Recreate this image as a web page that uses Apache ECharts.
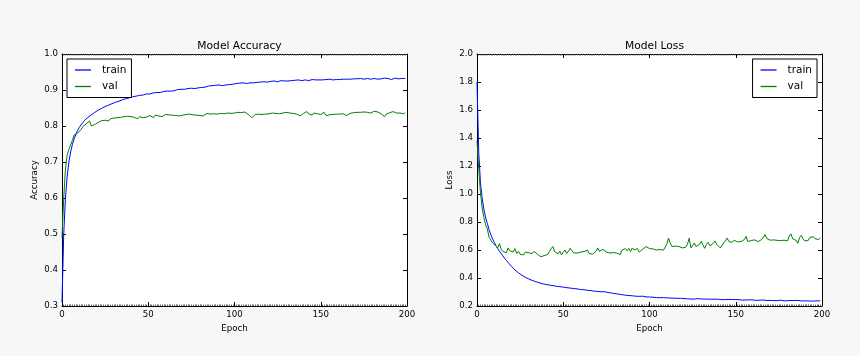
<!DOCTYPE html>
<html>
<head>
<meta charset="utf-8">
<script src="https://cdn.jsdelivr.net/npm/echarts@6/dist/echarts.min.js"></script>
<style>
html,body{margin:0;padding:0;background:#f7f7f7;}
#chart{width:860px;height:356px;}
</style>
</head>
<body>
<div id="chart"></div>
<script>
// ---- data (epoch index = position in array, 0..199) ----
const accTrain = [
0.310,0.500,0.600,0.660,0.700,0.728,0.748,0.764,0.776,0.787,
0.796,0.803,0.809,0.815,0.820,0.824,0.828,0.831,0.834,0.838,
0.841,0.844,0.846,0.849,0.851,0.854,0.856,0.858,0.861,0.862,
0.864,0.866,0.868,0.869,0.871,0.873,0.874,0.876,0.877,0.878,
0.879,0.881,0.880,0.883,0.884,0.885,0.884,0.886,0.888,0.889,
0.890,0.889,0.891,0.892,0.891,0.893,0.894,0.893,0.895,0.896,
0.895,0.897,0.898,0.897,0.899,0.898,0.900,0.901,0.899,0.902,
0.903,0.902,0.901,0.904,0.903,0.905,0.906,0.904,0.907,0.906,
0.908,0.907,0.909,0.908,0.910,0.911,0.909,0.912,0.911,0.913,
0.912,0.914,0.913,0.912,0.915,0.914,0.916,0.915,0.917,0.916,
0.917,0.918,0.916,0.919,0.918,0.920,0.919,0.918,0.921,0.920,
0.921,0.920,0.922,0.921,0.923,0.922,0.921,0.923,0.924,0.922,
0.923,0.924,0.923,0.925,0.924,0.923,0.925,0.926,0.924,0.925,
0.926,0.925,0.927,0.926,0.925,0.927,0.926,0.928,0.927,0.926,
0.927,0.928,0.927,0.926,0.928,0.929,0.927,0.928,0.929,0.928,
0.929,0.928,0.930,0.929,0.928,0.930,0.929,0.928,0.930,0.929,
0.930,0.929,0.931,0.930,0.929,0.930,0.931,0.930,0.929,0.931,
0.930,0.931,0.930,0.932,0.931,0.930,0.931,0.932,0.931,0.930,
0.931,0.932,0.931,0.930,0.932,0.931,0.932,0.933,0.931,0.932,
0.931,0.929,0.932,0.933,0.932,0.931,0.933,0.932,0.931,0.932
];
const accVal = [
0.490,0.600,0.680,0.720,0.735,0.740,0.760,0.775,0.778,0.780,
0.785,0.790,0.798,0.803,0.806,0.808,0.814,0.800,0.795,0.804,
0.806,0.810,0.808,0.815,0.812,0.816,0.818,0.814,0.820,0.817,
0.822,0.819,0.823,0.818,0.824,0.821,0.826,0.822,0.827,0.823,
0.826,0.829,0.824,0.828,0.820,0.826,0.829,0.823,0.828,0.825,
0.822,0.829,0.826,0.823,0.830,0.825,0.828,0.831,0.826,0.830,
0.832,0.829,0.831,0.827,0.830,0.834,0.829,0.831,0.828,0.832,
0.830,0.826,0.832,0.829,0.833,0.828,0.831,0.834,0.830,0.832,
0.829,0.833,0.828,0.832,0.835,0.830,0.833,0.829,0.834,0.831,
0.833,0.830,0.835,0.831,0.834,0.832,0.836,0.833,0.835,0.838,
0.836,0.835,0.838,0.834,0.837,0.836,0.839,0.835,0.832,0.828,
0.823,0.828,0.832,0.834,0.833,0.835,0.832,0.834,0.833,0.835,
0.834,0.832,0.836,0.833,0.835,0.837,0.834,0.833,0.836,0.834,
0.838,0.834,0.836,0.839,0.835,0.837,0.833,0.830,0.828,0.831,
0.835,0.837,0.840,0.834,0.838,0.830,0.836,0.839,0.834,0.837,
0.832,0.836,0.838,0.829,0.826,0.831,0.834,0.832,0.835,0.833,
0.834,0.833,0.835,0.834,0.832,0.829,0.833,0.835,0.836,0.837,
0.836,0.838,0.837,0.838,0.836,0.839,0.837,0.838,0.840,0.836,
0.838,0.841,0.837,0.839,0.838,0.834,0.829,0.826,0.833,0.838,
0.837,0.839,0.840,0.838,0.836,0.832,0.836,0.839,0.834,0.837
];
const lossTrain = [
1.800,1.300,1.080,0.970,0.890,0.830,0.790,0.745,0.710,0.680,
0.655,0.630,0.610,0.592,0.575,0.558,0.541,0.526,0.511,0.497,
0.483,0.470,0.458,0.447,0.437,0.428,0.420,0.412,0.405,0.399,
0.393,0.388,0.383,0.378,0.374,0.370,0.366,0.362,0.359,0.356,
0.354,0.351,0.349,0.347,0.346,0.344,0.341,0.335,0.338,0.340,
0.335,0.333,0.331,0.330,0.328,0.326,0.325,0.323,0.322,0.320,
0.318,0.317,0.316,0.314,0.312,0.311,0.310,0.308,0.306,0.305,
0.304,0.303,0.302,0.300,0.302,0.299,0.296,0.294,0.293,0.291,
0.288,0.286,0.285,0.283,0.281,0.279,0.277,0.279,0.275,0.274,
0.273,0.272,0.270,0.271,0.269,0.268,0.270,0.266,0.265,0.266,
0.264,0.262,0.263,0.261,0.260,0.262,0.259,0.258,0.260,0.257,
0.258,0.256,0.257,0.255,0.256,0.254,0.255,0.253,0.255,0.252,
0.253,0.255,0.251,0.252,0.250,0.252,0.249,0.251,0.253,0.249,
0.250,0.248,0.250,0.247,0.249,0.251,0.248,0.247,0.249,0.246,
0.248,0.246,0.245,0.248,0.246,0.244,0.247,0.245,0.246,0.244,
0.246,0.243,0.245,0.244,0.242,0.245,0.243,0.241,0.244,0.242,
0.243,0.241,0.240,0.246,0.242,0.240,0.243,0.241,0.239,0.242,
0.240,0.244,0.239,0.241,0.238,0.240,0.242,0.239,0.237,0.240,
0.238,0.241,0.239,0.236,0.239,0.237,0.240,0.238,0.236,0.238,
0.237,0.239,0.236,0.238,0.235,0.240,0.236,0.234,0.237,0.236
];
const lossVal = [
1.380,1.180,1.010,0.900,0.830,0.780,0.750,0.690,0.670,0.650,
0.660,0.630,0.615,0.645,0.605,0.590,0.600,0.580,0.615,0.595,
0.605,0.585,0.610,0.575,0.590,0.570,0.578,0.565,0.585,0.572,
0.580,0.568,0.575,0.590,0.603,0.570,0.560,0.552,0.565,0.560,
0.572,0.568,0.590,0.610,0.625,0.588,0.580,0.572,0.592,0.565,
0.585,0.600,0.575,0.590,0.612,0.595,0.580,0.575,0.578,0.572,
0.585,0.577,0.588,0.580,0.600,0.575,0.585,0.570,0.558,0.590,
0.615,0.590,0.580,0.605,0.598,0.585,0.592,0.578,0.585,0.582,
0.590,0.578,0.575,0.568,0.598,0.588,0.610,0.595,0.612,0.590,
0.615,0.600,0.595,0.610,0.585,0.598,0.605,0.610,0.625,0.615,
0.610,0.605,0.608,0.602,0.600,0.598,0.604,0.600,0.598,0.610,
0.640,0.685,0.650,0.625,0.622,0.628,0.620,0.625,0.630,0.615,
0.625,0.620,0.640,0.685,0.615,0.608,0.650,0.625,0.615,0.640,
0.662,0.635,0.612,0.640,0.655,0.630,0.625,0.648,0.665,0.640,
0.630,0.615,0.625,0.650,0.665,0.685,0.660,0.650,0.655,0.670,
0.662,0.658,0.665,0.660,0.668,0.675,0.698,0.660,0.650,0.668,
0.665,0.672,0.668,0.660,0.666,0.675,0.690,0.710,0.682,0.672,
0.670,0.668,0.672,0.665,0.669,0.670,0.667,0.673,0.670,0.678,
0.665,0.700,0.715,0.680,0.675,0.668,0.648,0.690,0.705,0.680,
0.665,0.662,0.668,0.690,0.702,0.695,0.680,0.668,0.675,0.685
];
const titles = ['Model Accuracy', 'Model Loss'];
const yNames = ['Accuracy', 'Loss'];
const xName = 'Epoch';
const seriesNames = ['train', 'val'];

// ---- styling ----
const FONT = 'DejaVu Sans';
const BLUE = '#0000ff', GREEN = '#008000';
const grids = [
  {left: 62, top: 54, width: 345, height: 252},
  {left: 477, top: 54, width: 345, height: 252}
];
const yRanges = [{min: 0.3, max: 1.0, interval: 0.1}, {min: 0.2, max: 2.0, interval: 0.2}];

function pairs(arr){ return arr.map((v, i) => [i, v]); }

const xAxes = [], yAxes = [];
grids.forEach((g, gi) => {
  const xBase = {
    type: 'value', gridIndex: gi, min: 0, max: 200, interval: 50,
    axisLine: {show: true, onZero: false, lineStyle: {color: '#000', width: 1}},
    axisTick: {show: true, inside: true, length: 4, lineStyle: {color: '#000'}},
    minorTick: {show: true, splitNumber: 50, length: 1.5, lineStyle: {color: '#444', width: 0.8}},
    splitLine: {show: false}, minorSplitLine: {show: false}
  };
  xAxes.push(Object.assign({}, xBase, {
    position: 'bottom',
    name: xName, nameLocation: 'middle', nameGap: 17,
    nameTextStyle: {fontFamily: FONT, fontSize: 8.7, color: '#000'},
    axisLabel: {show: true, margin: 4, fontFamily: FONT, fontSize: 8.6, color: '#000'}
  }));
  xAxes.push(Object.assign({}, xBase, {position: 'top', axisLabel: {show: false}}));
  const r = yRanges[gi];
  const yBase = {
    type: 'value', gridIndex: gi, min: r.min, max: r.max, interval: r.interval,
    axisLine: {show: true, onZero: false, lineStyle: {color: '#000', width: 1}},
    axisTick: {show: true, inside: true, length: 4, lineStyle: {color: '#000'}},
    splitLine: {show: false}
  };
  yAxes.push(Object.assign({}, yBase, {
    position: 'left',
    name: yNames[gi], nameLocation: 'middle', nameGap: 23, nameRotate: 90,
    nameTextStyle: {fontFamily: FONT, fontSize: 8.7, color: '#000'},
    axisLabel: {show: true, margin: 4, fontFamily: FONT, fontSize: 8.6, color: '#000',
      formatter: v => v.toFixed(1)}
  }));
  yAxes.push(Object.assign({}, yBase, {position: 'right', axisLabel: {show: false}}));
});

const legendCommon = {
  orient: 'vertical', data: seriesNames, icon: 'rect', itemWidth: 16, itemHeight: 1.3,
  itemGap: 0.5, padding: [3, 5, 3, 8], borderColor: '#000', borderWidth: 1,
  backgroundColor: '#fff', borderRadius: 0, selectedMode: false,
  textStyle: {fontFamily: FONT, fontSize: 10.5, color: '#000', lineHeight: 16, padding: [0, 0, 0, 6]}
};

const option = {
  backgroundColor: '#f7f7f7',
  animation: false,
  title: titles.map((t, i) => ({
    text: t, left: grids[i].left + grids[i].width / 2, top: 36, textAlign: 'center',
    textStyle: {fontFamily: FONT, fontSize: 10.7, fontWeight: 'normal', color: '#000'}
  })),
  legend: [
    Object.assign({}, legendCommon, {left: 67, top: 59}),
    Object.assign({}, legendCommon, {right: 43, top: 59})
  ],
  grid: grids.map(g => Object.assign({show: true, backgroundColor: '#fff', borderWidth: 0}, g)),
  xAxis: xAxes,
  yAxis: yAxes,
  series: [
    {name: seriesNames[0], type: 'line', xAxisIndex: 0, yAxisIndex: 0, data: pairs(accTrain),
     showSymbol: false, color: BLUE, lineStyle: {width: 1, color: BLUE}},
    {name: seriesNames[1], type: 'line', xAxisIndex: 0, yAxisIndex: 0, data: pairs(accVal),
     showSymbol: false, color: GREEN, lineStyle: {width: 1, color: GREEN}},
    {name: seriesNames[0], type: 'line', xAxisIndex: 2, yAxisIndex: 2, data: pairs(lossTrain),
     showSymbol: false, color: BLUE, lineStyle: {width: 1, color: BLUE}},
    {name: seriesNames[1], type: 'line', xAxisIndex: 2, yAxisIndex: 2, data: pairs(lossVal),
     showSymbol: false, color: GREEN, lineStyle: {width: 1, color: GREEN}}
  ]
};

const chart = echarts.init(document.getElementById('chart'), null, {renderer: 'canvas'});
chart.setOption(option);
</script>
</body>
</html>
